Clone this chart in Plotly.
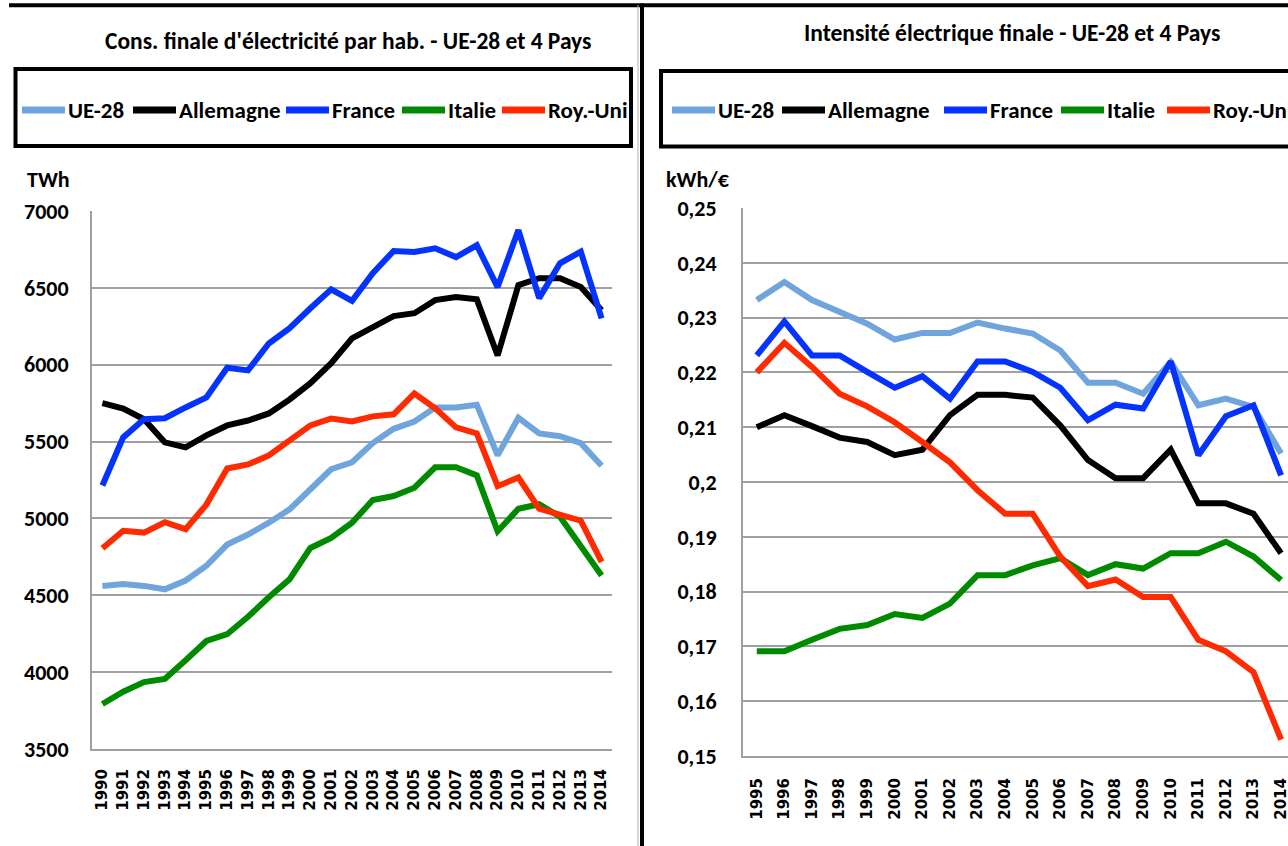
import plotly.graph_objects as go

# ---------------- data ----------------
series_names = ["UE-28", "Allemagne", "France", "Italie", "Roy.-Uni"]
series_colors = ["#6FA5DC", "#000000", "#0433FF", "#008A00", "#FF2A00"]

years_left = list(range(1990, 2015))
ue28_cons = [4561, 4574, 4561, 4539, 4596, 4692, 4830, 4895, 4972, 5059, 5190, 5320, 5365,
             5490, 5583, 5630, 5722, 5722, 5740, 5410, 5655, 5553, 5535, 5490, 5343]
allemagne_cons = [5750, 5715, 5645, 5495, 5462, 5540, 5605, 5637, 5683, 5774, 5880, 6010, 6172,
                  6245, 6316, 6335, 6420, 6440, 6425, 6060, 6518, 6563, 6563, 6505, 6355]
france_cons = [5214, 5527, 5645, 5652, 5722, 5787, 5980, 5963, 6138, 6237, 6367, 6490, 6415,
               6596, 6740, 6733, 6757, 6700, 6777, 6505, 6876, 6433, 6660, 6735, 6302]
italie_cons = [3793, 3873, 3935, 3956, 4077, 4203, 4247, 4360, 4487, 4605, 4808, 4873, 4972,
               5120, 5146, 5200, 5333, 5333, 5280, 4917, 5063, 5092, 5011, 4819, 4629]
royuni_cons = [4806, 4920, 4908, 4975, 4930, 5090, 5325, 5351, 5410, 5507, 5605, 5650, 5631,
               5664, 5677, 5813, 5716, 5592, 5553, 5210, 5266, 5063, 5026, 4985, 4717]

years_right = list(range(1995, 2015))
ue28_int = [0.2332, 0.2365, 0.2332, 0.2310, 0.2289, 0.2260, 0.2272, 0.2272, 0.2291, 0.2280,
            0.2271, 0.2240, 0.2181, 0.2181, 0.2161, 0.2219, 0.2140, 0.2152, 0.2137, 0.2052]
allemagne_int = [0.2100, 0.2122, 0.2102, 0.2081, 0.2073, 0.2049, 0.2059, 0.2122, 0.2159, 0.2159,
                 0.2154, 0.2103, 0.2040, 0.2007, 0.2007, 0.2059, 0.1961, 0.1961, 0.1942, 0.1870]
france_int = [0.2231, 0.2293, 0.2231, 0.2231, 0.2201, 0.2172, 0.2193, 0.2152, 0.2220, 0.2220,
              0.2201, 0.2172, 0.2113, 0.2141, 0.2134, 0.2220, 0.2049, 0.2120, 0.2140, 0.2012]
italie_int = [0.1691, 0.1691, 0.1712, 0.1732, 0.1739, 0.1759, 0.1752, 0.1778, 0.1830, 0.1830,
              0.1848, 0.1861, 0.1830, 0.1850, 0.1842, 0.1870, 0.1870, 0.1891, 0.1864, 0.1821]
royuni_int = [0.2200, 0.2254, 0.2210, 0.2161, 0.2138, 0.2109, 0.2073, 0.2036, 0.1985, 0.1942,
              0.1942, 0.1864, 0.1810, 0.1822, 0.1790, 0.1790, 0.1712, 0.1691, 0.1653, 0.1530]

left_series = [ue28_cons, allemagne_cons, france_cons, italie_cons, royuni_cons]
right_series = [ue28_int, allemagne_int, france_int, italie_int, royuni_int]

left_ticks = [3500, 4000, 4500, 5000, 5500, 6000, 6500, 7000]
right_ticks = [0.15, 0.16, 0.17, 0.18, 0.19, 0.20, 0.21, 0.22, 0.23, 0.24, 0.25]

title_left = "Cons. finale d'électricité par hab. - UE-28 et 4 Pays"
title_right = "Intensité électrique finale - UE-28 et 4 Pays"
unit_left = "TWh"
unit_right = "kWh/€"

# ---------------- layout helpers ----------------
W, H = 1288, 846
FONT = "Carlito, 'Liberation Sans Narrow', 'DejaVu Sans Condensed', Lato, sans-serif"
YEAR_FONT = "'DejaVu Sans', Verdana, sans-serif"
GRID = "#A0A0A0"


def px(x):
    return x / W


def py(y):
    return 1 - y / H


fig = go.Figure()

for name, color, vals in zip(series_names, series_colors, left_series):
    fig.add_trace(go.Scatter(x=years_left, y=vals, mode="lines", name=name,
                             line=dict(color=color, width=6), xaxis="x", yaxis="y",
                             showlegend=False))
for name, color, vals in zip(series_names, series_colors, right_series):
    fig.add_trace(go.Scatter(x=years_right, y=vals, mode="lines", name=name,
                             line=dict(color=color, width=6), xaxis="x2", yaxis="y2",
                             showlegend=False))

common_x = dict(tickangle=-90, showgrid=False, showline=True, linecolor=GRID, linewidth=2,
                ticks="outside", tickcolor="rgba(0,0,0,0)", zeroline=False, fixedrange=True,
                ticklabeloverflow="allow", automargin=False,
                tickfont=dict(family=YEAR_FONT, size=15, color="black", weight="bold"))
common_y = dict(showgrid=True, gridcolor=GRID, gridwidth=2, showline=True, linecolor=GRID,
                linewidth=2, ticks="outside", tickcolor="rgba(0,0,0,0)", zeroline=False,
                fixedrange=True, automargin=False,
                tickfont=dict(family=FONT, size=22, color="black", weight="bold"))

fig.update_layout(
    width=W, height=H, margin=dict(l=0, r=0, t=0, b=0, pad=0, autoexpand=False),
    paper_bgcolor="white", plot_bgcolor="white", showlegend=False,
    xaxis=dict(domain=[px(92), px(612)], range=[1989.5, 2014.5], anchor="y",
               tickvals=years_left, ticktext=[str(y) for y in years_left], ticklen=12,
               **common_x),
    yaxis=dict(domain=[py(749), py(211)], range=[3500, 7000], anchor="x",
               tickvals=left_ticks, ticktext=[str(v) for v in left_ticks], ticklen=17,
               **common_y),
    xaxis2=dict(domain=[px(743), 1.0], range=[1994.5, 2014.25], anchor="y2",
                tickvals=years_right, ticktext=[str(y) for y in years_right], ticklen=14,
                **common_x),
    yaxis2=dict(domain=[py(756), py(208)], range=[0.15, 0.25], anchor="x2",
                tickvals=right_ticks,
                ticktext=[f"{v:g}".replace(".", ",") for v in right_ticks], ticklen=20,
                **common_y),
)

shapes = []
# panel frames
shapes.append(dict(type="line", xref="paper", yref="paper", x0=px(9), x1=px(640), y0=py(5.3), y1=py(5.3),
                   line=dict(color="black", width=4)))
shapes.append(dict(type="line", xref="paper", yref="paper", x0=px(638), x1=px(638), y0=py(5), y1=py(846),
                   line=dict(color="#B0B0B0", width=1)))
shapes.append(dict(type="line", xref="paper", yref="paper", x0=px(640), x1=px(1300), y0=py(5.3), y1=py(5.3),
                   line=dict(color="black", width=4)))
shapes.append(dict(type="line", xref="paper", yref="paper", x0=px(642), x1=px(642), y0=py(3.5), y1=py(846),
                   line=dict(color="black", width=4)))
# legend boxes
shapes.append(dict(type="rect", xref="paper", yref="paper", x0=px(15.5), x1=px(631), y0=py(69), y1=py(146),
                   line=dict(color="black", width=4), fillcolor="rgba(0,0,0,0)"))
shapes.append(dict(type="rect", xref="paper", yref="paper", x0=px(661), x1=px(1310), y0=py(71), y1=py(146.5),
                   line=dict(color="black", width=4), fillcolor="rgba(0,0,0,0)"))

annotations = []
annotations.append(dict(text=title_left, x=px(348), y=py(41), xref="paper", yref="paper",
                        showarrow=False, xanchor="center", yanchor="middle",
                        font=dict(family=FONT, size=23.5, color="black", weight="bold")))
annotations.append(dict(text=title_right, x=px(1012), y=py(33), xref="paper", yref="paper",
                        showarrow=False, xanchor="center", yanchor="middle",
                        font=dict(family=FONT, size=23.5, color="black", weight="bold")))
annotations.append(dict(text=unit_left, x=px(48), y=py(179), xref="paper", yref="paper",
                        showarrow=False, xanchor="center", yanchor="middle",
                        font=dict(family=FONT, size=22, color="black", weight="bold")))
annotations.append(dict(text=unit_right, x=px(698), y=py(179), xref="paper", yref="paper",
                        showarrow=False, xanchor="center", yanchor="middle",
                        font=dict(family=FONT, size=22, color="black", weight="bold")))

# legends (manual, one per panel)
legend_left_x = [22, 133, 286, 402, 502]
legend_right_x = [672, 782, 944, 1061, 1167]
LEG_LINE = 43
LEG_Y = 110
for xs in (legend_left_x, legend_right_x):
    for name, color, x0 in zip(series_names, series_colors, xs):
        shapes.append(dict(type="line", xref="paper", yref="paper", x0=px(x0), x1=px(x0 + LEG_LINE),
                           y0=py(LEG_Y), y1=py(LEG_Y), line=dict(color=color, width=7)))
        annotations.append(dict(text=name, x=px(x0 + LEG_LINE + 1), y=py(LEG_Y), xref="paper", yref="paper",
                                showarrow=False, xanchor="left", yanchor="middle",
                                font=dict(family=FONT, size=23, color="black", weight="bold")))

fig.update_layout(shapes=shapes, annotations=annotations)
fig.write_html(
    "out.html",
    config={"displayModeBar": False},
    post_script="document.body.style.margin='0';document.body.style.padding='0';"
                "document.body.style.overflow='hidden';",
)
